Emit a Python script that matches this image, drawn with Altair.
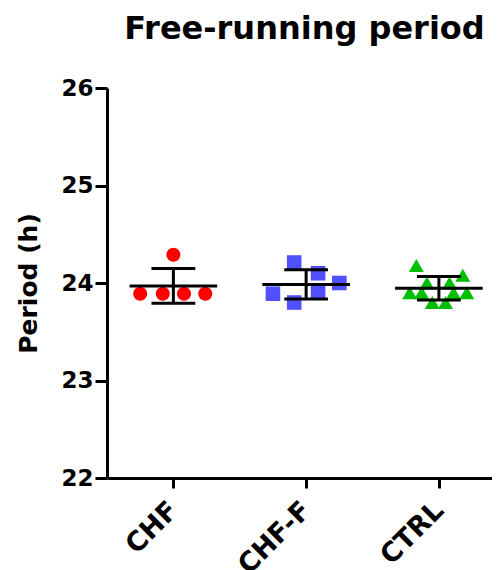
import json
import altair as alt
import pandas as pd

# ---- data ----
groups = ["CHF", "CHF-F", "CTRL"]
chf_period = [24.29, 23.89, 23.89, 23.89, 23.89]
chf_jitter = [0.0, -0.25, -0.08, 0.08, 0.24]
chff_period = [24.21, 24.10, 24.00, 23.89, 23.91, 23.80]
chff_jitter = [-0.09, 0.09, 0.25, -0.25, 0.09, -0.09]
ctrl_period = [24.18, 24.08, 24.00, 24.00, 23.90, 23.90, 23.90, 23.90, 23.80, 23.80]
ctrl_jitter = [-0.17, 0.18, -0.09, 0.08, -0.22, -0.13, 0.11, 0.21, -0.05, 0.05]
colors = ["#FF0000", "#5050FF", "#00BF00"]
shapes = ["circle", "square", "triangle-up"]
y_ticks = [22, 23, 24, 25, 26]

rows = []
for i, (g, vals, jit) in enumerate(zip(groups,
                                        [chf_period, chff_period, ctrl_period],
                                        [chf_jitter, chff_jitter, ctrl_jitter])):
    for v, j in zip(vals, jit):
        rows.append({"group": g, "idx": i, "period": v, "jit": j})
df = pd.DataFrame(rows)

FONT = "DejaVu Sans"
label_expr = json.dumps(groups) + "[datum.value]"

xscale = alt.Scale(domain=[-0.5, 2.4], nice=False, zero=False)
yscale = alt.Scale(domain=[22, 26], nice=False, zero=False)

xaxis = alt.Axis(values=[0, 1, 2], labelExpr=label_expr, title=None, grid=False,
                 labelAngle=315, labelAlign="right", labelBaseline="middle",
                 labelFont=FONT, labelFontSize=27, labelFontWeight="bold",
                 labelColor="black", labelPadding=18,
                 tickSize=10, tickWidth=3, tickColor="black",
                 domainWidth=3, domainColor="black")
yaxis = alt.Axis(values=y_ticks, format="d", title="Period (h)", grid=False,
                 labelFont=FONT, labelFontSize=23, labelFontWeight="bold",
                 labelColor="black", labelPadding=2,
                 titleFont=FONT, titleFontSize=25, titleFontWeight="bold",
                 titleColor="black", titlePadding=19,
                 tickSize=12, tickWidth=3, tickColor="black",
                 domainWidth=3, domainColor="black")

base = alt.Chart(df)

points = base.transform_calculate(xpos="datum.idx + datum.jit").mark_point(
    filled=True, opacity=1, strokeWidth=0
).encode(
    x=alt.X("xpos:Q", scale=xscale, axis=xaxis),
    y=alt.Y("period:Q", scale=yscale, axis=yaxis),
    color=alt.Color("group:N", scale=alt.Scale(domain=groups, range=colors), legend=None),
    shape=alt.Shape("group:N", scale=alt.Scale(domain=groups, range=shapes), legend=None),
    size=alt.Size("group:N", scale=alt.Scale(domain=groups, range=[200, 225, 280]), legend=None),
)

stats = base.transform_aggregate(
    mean="mean(period)", sd="stdev(period)", groupby=["idx"]
).transform_calculate(
    lo="datum.mean - datum.sd", hi="datum.mean + datum.sd",
    ml="datum.idx - 0.33", mr="datum.idx + 0.33",
    cl="datum.idx - 0.165", cr="datum.idx + 0.165",
)

mean_line = stats.mark_rule(color="black", strokeWidth=3).encode(
    x=alt.X("ml:Q", scale=xscale), x2="mr:Q", y=alt.Y("mean:Q", scale=yscale))
vbar = stats.mark_rule(color="black", strokeWidth=3).encode(
    x=alt.X("idx:Q", scale=xscale), y=alt.Y("lo:Q", scale=yscale), y2="hi:Q")
cap_hi = stats.mark_rule(color="black", strokeWidth=3).encode(
    x=alt.X("cl:Q", scale=xscale), x2="cr:Q", y=alt.Y("hi:Q", scale=yscale))
cap_lo = stats.mark_rule(color="black", strokeWidth=3).encode(
    x=alt.X("cl:Q", scale=xscale), x2="cr:Q", y=alt.Y("lo:Q", scale=yscale))

chart = alt.layer(points, mean_line, vbar, cap_hi, cap_lo).properties(
    width=385, height=390,
    background="white",
    title=alt.TitleParams("Free-running period", font=FONT, fontSize=32,
                          fontWeight="bold", color="black", anchor="middle",
                          offset=31, dx=5),
    padding={"left": 8, "top": 5, "right": 0, "bottom": 0},
).configure_view(stroke="transparent", strokeWidth=0).configure_axis(grid=False)

chart.save("out.html", embed_options={"renderer": "svg", "actions": False})
